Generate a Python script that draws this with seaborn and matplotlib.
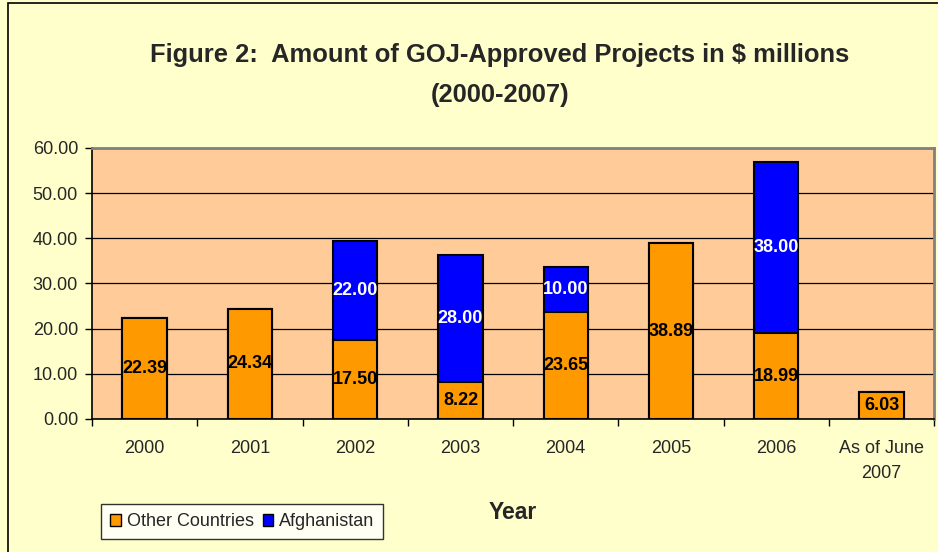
import numpy as np
import pandas as pd
import seaborn as sns
import matplotlib.pyplot as plt
from matplotlib.patches import Patch, Rectangle

years = ["2000", "2001", "2002", "2003", "2004", "2005", "2006", "As of June\n2007"]
other_countries = [22.39, 24.34, 17.50, 8.22, 23.65, 38.89, 18.99, 6.03]
afghanistan = [0, 0, 22.00, 28.00, 10.00, 0, 38.00, 0]

ORANGE = "#FF9900"
BLUE = "#0000FF"
FIG_BG = "#FFFFCC"
PLOT_BG = "#FFCC99"

sns.set_style("white")
plt.rcParams["font.family"] = ["Liberation Sans", "DejaVu Sans"]

df = pd.DataFrame({"year": years, "other": other_countries, "afg": afghanistan})
df["total"] = df["other"] + df["afg"]

fig = plt.figure(figsize=(9.38, 5.52), dpi=100, facecolor=FIG_BG)
ax = fig.add_axes([0.098, 0.241, 0.898, 0.491])
ax.set_facecolor(PLOT_BG)

# figure frame
fig.patches.append(Rectangle((0.009, -0.01), 1.2, 1.005, transform=fig.transFigure,
                             fill=False, edgecolor="black", linewidth=1.2, zorder=0))

# blue drawn as full stack, orange over it
sns.barplot(data=df, x="year", y="total", color=BLUE, saturation=1, width=0.42,
            edgecolor="black", linewidth=1.5, ax=ax, zorder=3)
sns.barplot(data=df, x="year", y="other", color=ORANGE, saturation=1, width=0.42,
            edgecolor="black", linewidth=1.5, ax=ax, zorder=4)

for i, row in df.iterrows():
    ax.text(i, row["other"] / 2, f"{row['other']:.2f}", ha="center", va="center",
            fontsize=13, fontweight="bold", color="black", zorder=5)
    if row["afg"] > 0:
        ax.text(i, row["other"] + row["afg"] / 2, f"{row['afg']:.2f}", ha="center",
                va="center", fontsize=13, fontweight="bold", color="white", zorder=5)

ax.set_ylim(0, 60)
ax.set_xlim(-0.5, len(years) - 0.5)
ax.set_yticks(np.arange(0, 61, 10))
ax.set_yticklabels([f"{v:.2f}" for v in np.arange(0, 61, 10)], fontsize=13)
ax.yaxis.grid(True, color="black", linewidth=0.9, zorder=1)
ax.set_axisbelow(True)
ax.tick_params(axis="y", direction="out", length=5, width=1, color="black", left=True, pad=5)

ax.set_xticks(range(len(years)))
ax.set_xticklabels(years, fontsize=13, linespacing=1.6)
ax.set_xticks(np.arange(-0.5, len(years), 1), minor=True)
ax.tick_params(axis="x", which="major", length=0, pad=15)
ax.tick_params(axis="x", which="minor", direction="out", length=5, width=1,
               color="black", bottom=True)

for side in ["left", "bottom"]:
    ax.spines[side].set_color("black")
    ax.spines[side].set_linewidth(1.2)
ax.spines["top"].set_color("#808080")
ax.spines["top"].set_linewidth(2)
ax.spines["right"].set_color("#808080")
ax.spines["right"].set_linewidth(2)

ax.set_xlabel("")
ax.set_ylabel("")

fig.text(0.533, 0.9, "Figure 2:  Amount of GOJ-Approved Projects in $ millions",
         ha="center", va="center", fontsize=18.4, fontweight="bold")
fig.text(0.533, 0.828, "(2000-2007)", ha="center", va="center",
         fontsize=18.4, fontweight="bold")
fig.text(0.547, 0.071, "Year", ha="center", va="center", fontsize=16.5, fontweight="bold")

handles = [Patch(facecolor=ORANGE, edgecolor="black", label="Other Countries"),
           Patch(facecolor=BLUE, edgecolor="black", label="Afghanistan")]
leg = fig.legend(handles=handles, loc="lower left", bbox_to_anchor=(0.108, 0.023),
                 ncol=2, fontsize=13, frameon=True, fancybox=False,
                 handlelength=0.6, handleheight=0.6, handletextpad=0.3,
                 columnspacing=0.5, borderpad=0.5, borderaxespad=0)
leg.get_frame().set_edgecolor("black")
leg.get_frame().set_facecolor("white")
leg.get_frame().set_linewidth(1)

fig.savefig("out.png", dpi=100, facecolor=FIG_BG)
